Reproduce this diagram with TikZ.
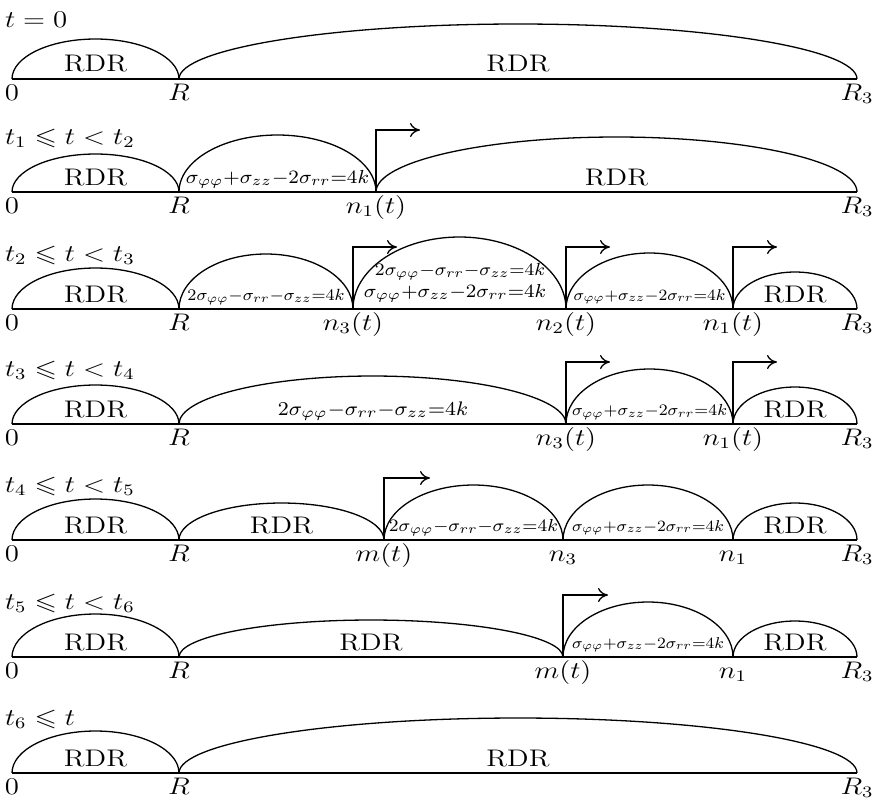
\documentclass[tikz,border=0pt]{standalone}
\usepackage{amssymb}
\usepackage{graphicx}
\usetikzlibrary{arrows.meta}
\newcommand\sx[1]{\scalebox{1.2}[1]{#1}}
\newcommand\fa[1]{\resizebox{#1}{!}{\scalebox{1.05}[1]{\fontsize{12}{14}\selectfont$\scriptstyle\sigma_{\varphi\varphi}+\sigma_{zz}-2\sigma_{rr}=4k$}}}
\newcommand\fb[1]{\resizebox{#1}{!}{\scalebox{1.05}[1]{\fontsize{12}{14}\selectfont$\scriptstyle 2\sigma_{\varphi\varphi}-\sigma_{rr}-\sigma_{zz}=4k$}}}
\newcommand\Arch[3]{\draw (#1) arc[start angle=180,end angle=0,x radius=#2*0.25pt,y radius=#3*0.5pt];}
\tikzset{
  every node/.style={inner sep=0pt, outer sep=0pt, font=\fontsize{12}{14}\selectfont},
  lbl/.style={anchor=base},
  rowlbl/.style={anchor=base west},
  mover/.style={-{To[length=5pt,width=7pt]}},
}
\begin{document}
\begin{tikzpicture}[x=0.5pt,y=0.5pt,line width=0.65pt]
\useasboundingbox (0,0) rectangle (877,-805);
% ---------- row 1
\node[rowlbl] (t1) at (5,-27) {\sx{$t=0$}};
\coordinate (a1) at (12,-79); \coordinate (b1) at (179,-79); \coordinate (e1) at (857,-79);
\draw (a1) -- (e1);
\Arch{a1}{167}{40} \Arch{b1}{678}{55}
\node[lbl] (r1a) at (95.5,-71) {\sx{RDR}};
\node[lbl] (r1b) at (518,-71) {\sx{RDR}};
\node[lbl] (z1) at (12,-100) {\sx{$0$}};
\node[lbl] (R1) at (179,-100) {\sx{$R$}};
\node[lbl] (E1) at (857,-100) {\sx{$R_3$}};
% ---------- row 2
\node[rowlbl] (t2) at (5,-144) {\sx{$t_1\leqslant t<t_2$}};
\coordinate (a2) at (12,-192); \coordinate (b2) at (179,-192); \coordinate (n2) at (376,-192); \coordinate (e2) at (857,-192);
\draw (a2) -- (e2);
\Arch{a2}{167}{38} \Arch{b2}{197}{57} \Arch{n2}{481}{55}
\node[lbl] (r2a) at (95.5,-185) {\sx{RDR}};
\node[lbl] (f2a) at (277.5,-183) {\fa{91.5pt}};
\node[lbl] (r2b) at (616.5,-185) {\sx{RDR}};
\coordinate (q2) at (420,-130);
\draw[mover] (n2) |- (q2);
\node[lbl] (z2) at (12,-213) {\sx{$0$}};
\node[lbl] (R2) at (179,-213) {\sx{$R$}};
\node[lbl] (N2) at (376,-213) {\sx{$n_1(t)$}};
\node[lbl] (E2) at (857,-213) {\sx{$R_3$}};
% ---------- row 3
\node[rowlbl] (t3) at (5,-261) {\sx{$t_2\leqslant t<t_3$}};
\coordinate (a3) at (12,-309); \coordinate (b3) at (179,-309); \coordinate (c3) at (353,-309);
\coordinate (d3) at (566,-309); \coordinate (g3) at (733,-309); \coordinate (e3) at (857,-309);
\draw (a3) -- (e3);
\Arch{a3}{167}{41} \Arch{b3}{174}{55} \Arch{c3}{213}{72} \Arch{d3}{167}{56} \Arch{g3}{124}{37}
\node[lbl] (r3a) at (95.5,-302) {\sx{RDR}};
\node[lbl] (f3a) at (266,-300) {\fb{78.5pt}};
\node[lbl] (f3b) at (460,-275) {\fb{85pt}};
\node[lbl] (f3c) at (455,-297) {\fa{91pt}};
\node[lbl] (f3d) at (649.5,-300) {\fa{76pt}};
\node[lbl] (r3b) at (795,-302) {\sx{RDR}};
\coordinate (q3a) at (397,-247); \coordinate (q3b) at (610,-247); \coordinate (q3c) at (777,-247);
\draw[mover] (c3) |- (q3a);
\draw[mover] (d3) |- (q3b);
\draw[mover] (g3) |- (q3c);
\node[lbl] (z3) at (12,-330) {\sx{$0$}};
\node[lbl] (R3) at (179,-330) {\sx{$R$}};
\node[lbl] (N3c) at (353,-330) {\sx{$n_3(t)$}};
\node[lbl] (N3d) at (566,-330) {\sx{$n_2(t)$}};
\node[lbl] (N3g) at (733,-330) {\sx{$n_1(t)$}};
\node[lbl] (E3) at (857,-330) {\sx{$R_3$}};
% ---------- row 4
\node[rowlbl] (t4) at (5,-376) {\sx{$t_3\leqslant t<t_4$}};
\coordinate (a4) at (12,-424); \coordinate (b4) at (179,-424); \coordinate (d4) at (566,-424);
\coordinate (g4) at (733,-424); \coordinate (e4) at (857,-424);
\draw (a4) -- (e4);
\Arch{a4}{167}{39} \Arch{b4}{387}{48} \Arch{d4}{167}{55} \Arch{g4}{124}{37}
\node[lbl] (r4a) at (95.5,-417) {\sx{RDR}};
\node[lbl] (f4a) at (373,-415) {\fb{95pt}};
\node[lbl] (f4b) at (649.5,-415) {\fa{77.5pt}};
\node[lbl] (r4b) at (795,-417) {\sx{RDR}};
\coordinate (q4a) at (610,-362); \coordinate (q4b) at (777,-362);
\draw[mover] (d4) |- (q4a);
\draw[mover] (g4) |- (q4b);
\node[lbl] (z4) at (12,-445) {\sx{$0$}};
\node[lbl] (R4) at (179,-445) {\sx{$R$}};
\node[lbl] (N4d) at (566,-445) {\sx{$n_3(t)$}};
\node[lbl] (N4g) at (733,-445) {\sx{$n_1(t)$}};
\node[lbl] (E4) at (857,-445) {\sx{$R_3$}};
% ---------- row 5
\node[rowlbl] (t5) at (5,-492) {\sx{$t_4\leqslant t<t_5$}};
\coordinate (a5) at (12,-540); \coordinate (b5) at (179,-540); \coordinate (m5) at (384,-540);
\coordinate (d5) at (563,-540); \coordinate (g5) at (733,-540); \coordinate (e5) at (857,-540);
\draw (a5) -- (e5);
\Arch{a5}{167}{41} \Arch{b5}{205}{37} \Arch{m5}{179}{55} \Arch{d5}{170}{55} \Arch{g5}{124}{37}
\node[lbl] (r5a) at (95.5,-533) {\sx{RDR}};
\node[lbl] (r5b) at (281.5,-533) {\sx{RDR}};
\node[lbl] (f5a) at (473.5,-531) {\fb{84.5pt}};
\node[lbl] (f5b) at (648,-531) {\fa{76pt}};
\node[lbl] (r5c) at (795,-533) {\sx{RDR}};
\coordinate (q5) at (430,-478);
\draw[mover] (m5) |- (q5);
\node[lbl] (z5) at (12,-561) {\sx{$0$}};
\node[lbl] (R5) at (179,-561) {\sx{$R$}};
\node[lbl] (M5) at (384,-561) {\sx{$m(t)$}};
\node[lbl] (N5d) at (563,-561) {\sx{$n_3$}};
\node[lbl] (N5g) at (733,-561) {\sx{$n_1$}};
\node[lbl] (E5) at (857,-561) {\sx{$R_3$}};
% ---------- row 6
\node[rowlbl] (t6) at (5,-609) {\sx{$t_5\leqslant t<t_6$}};
\coordinate (a6) at (12,-657); \coordinate (b6) at (179,-657); \coordinate (m6) at (563,-657);
\coordinate (g6) at (733,-657); \coordinate (e6) at (857,-657);
\draw (a6) -- (e6);
\Arch{a6}{167}{43} \Arch{b6}{384}{37} \Arch{m6}{170}{55} \Arch{g6}{124}{36}
\node[lbl] (r6a) at (95.5,-650) {\sx{RDR}};
\node[lbl] (r6b) at (371,-650) {\sx{RDR}};
\node[lbl] (f6a) at (648,-648) {\fa{76pt}};
\node[lbl] (r6c) at (795,-650) {\sx{RDR}};
\coordinate (q6) at (608,-595);
\draw[mover] (m6) |- (q6);
\node[lbl] (z6) at (12,-678) {\sx{$0$}};
\node[lbl] (R6) at (179,-678) {\sx{$R$}};
\node[lbl] (M6) at (563,-678) {\sx{$m(t)$}};
\node[lbl] (N6g) at (733,-678) {\sx{$n_1$}};
\node[lbl] (E6) at (857,-678) {\sx{$R_3$}};
% ---------- row 7
\node[rowlbl] (t7) at (5,-725) {\sx{$t_6\leqslant t$}};
\coordinate (a7) at (12,-773); \coordinate (b7) at (179,-773); \coordinate (e7) at (857,-773);
\draw (a7) -- (e7);
\Arch{a7}{167}{42} \Arch{b7}{678}{55}
\node[lbl] (r7a) at (95.5,-766) {\sx{RDR}};
\node[lbl] (r7b) at (518,-766) {\sx{RDR}};
\node[lbl] (z7) at (12,-794) {\sx{$0$}};
\node[lbl] (R7) at (179,-794) {\sx{$R$}};
\node[lbl] (E7) at (857,-794) {\sx{$R_3$}};
\end{tikzpicture}
\end{document}
